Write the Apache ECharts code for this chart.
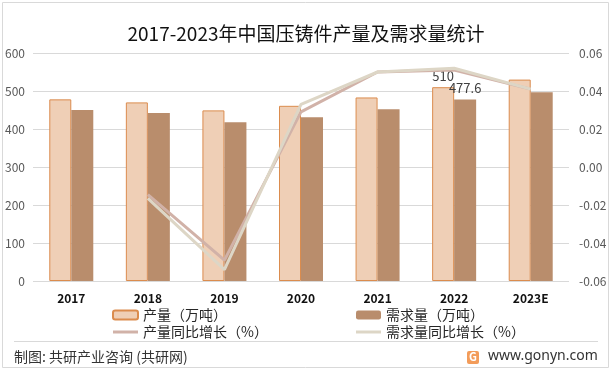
<!DOCTYPE html>
<html><head><meta charset="utf-8">
<script src="https://cdn.jsdelivr.net/npm/echarts@6/dist/echarts.min.js"></script>
<style>html,body{margin:0;padding:0;background:#fff}#c{width:612px;height:372px}</style>
</head><body><div id="c"></div>
<script>
const categories = ['2017','2018','2019','2020','2021','2022','2023E'];
const production = [478, 470, 449, 461, 483, 510, 530];
const demand = [450, 442, 418, 431, 452, 477.6, 497];
const prodGrowth = [null, -0.0145, -0.049, 0.029, 0.050, 0.051, 0.041];
const demandGrowth = [null, -0.0165, -0.054, 0.033, 0.050, 0.052, 0.041];
const leftTicks = {min: 0, max: 600, interval: 100};
const rightTicks = {min: -0.06, max: 0.06, interval: 0.02};
const labelled = {2022: true};

const font = '"Noto Sans CJK SC", "Noto Sans", sans-serif';
const lineIcon = 'path://M0,0 L25,0 L25,3 L0,3 Z';
const legendCommon = {orient: 'vertical', top: 308, padding: 0,
  itemWidth: 25, itemHeight: 9, itemGap: 3,
  textStyle: {fontSize: 14, color: '#262626', fontFamily: font}};
const chart = echarts.init(document.getElementById('c'), null, {renderer: 'canvas'});
chart.setOption({
  animation: false,
  textStyle: {fontFamily: font},
  title: {text: '2017-2023年中国压铸件产量及需求量统计', left: 'center', top: 19,
    textStyle: {fontSize: 19, fontWeight: 'normal', color: '#111', fontFamily: font}},
  grid: {left: 33, right: 43, top: 53, bottom: 91, containLabel: false},
  legend: [
    Object.assign({left: 112, data: ['产量（万吨）', {name: '产量同比增长（%）', icon: lineIcon}]}, legendCommon),
    Object.assign({left: 356, data: ['需求量（万吨）', {name: '需求量同比增长（%）', icon: lineIcon}]}, legendCommon)
  ],
  xAxis: {type: 'category', data: categories,
    axisLine: {show: false}, axisTick: {show: false},
    axisLabel: {margin: 11, fontSize: 12, fontWeight: 'bold', color: '#111', fontFamily: font}},
  yAxis: [
    {type: 'value', min: leftTicks.min, max: leftTicks.max, interval: leftTicks.interval,
     axisLabel: {fontSize: 12, color: '#595959', margin: 8, align: 'right'},
     splitLine: {lineStyle: {color: '#D9D9D9'}}, axisLine: {show: false}},
    {type: 'value', min: rightTicks.min, max: rightTicks.max, interval: rightTicks.interval,
     axisLabel: {fontSize: 12, color: '#595959', margin: 10, formatter: v => v.toFixed(2)},
     splitLine: {show: false}, axisLine: {show: false}}
  ],
  series: [
    {name: '产量（万吨）', type: 'bar', data: production, barWidth: 22, barGap: '0%',
     itemStyle: {color: '#EFCFB6', borderColor: '#DB8C4E', borderWidth: 1},
     label: {show: true, position: 'top', distance: 5, fontSize: 13, color: '#404040',
       formatter: p => labelled[p.name] ? String(p.value) : ''}},
    {name: '需求量（万吨）', type: 'bar', data: demand, barWidth: 22,
     itemStyle: {color: '#B98D6C'},
     label: {show: true, position: 'top', distance: 5, fontSize: 13, color: '#404040',
       formatter: p => labelled[p.name] ? String(p.value) : ''}},
    {name: '产量同比增长（%）', type: 'line', yAxisIndex: 1, data: prodGrowth,
     symbol: 'none', lineStyle: {color: '#D1B2A8', width: 3}, itemStyle: {color: '#D1B2A8'}, z: 3},
    {name: '需求量同比增长（%）', type: 'line', yAxisIndex: 1, data: demandGrowth,
     symbol: 'none', lineStyle: {color: '#DDD6C6', width: 3}, itemStyle: {color: '#DDD6C6'}, z: 4}
  ],
  graphic: [
    {type: 'rect', shape: {x: 2.5, y: 2.5, width: 606, height: 365},
     style: {fill: 'none', stroke: '#D9D9D9', lineWidth: 1}, silent: true},
    {type: 'line', shape: {x1: 14, y1: 341.5, x2: 598, y2: 341.5},
     style: {stroke: '#D9D9D9', lineWidth: 1}},
    {type: 'text', left: 14, top: 350,
     style: {text: '制图: 共研产业咨询 (共研网)', fontSize: 14, fill: '#333', fontFamily: font}},
    {type: 'rect', shape: {x: 467, y: 351, width: 12, height: 13, r: 2},
     style: {fill: '#F39C5A'}},
    {type: 'text', left: 469, top: 351,
     style: {text: 'G', fontSize: 11, fontWeight: 'bold', fill: '#fff', fontFamily: font}},
    {type: 'text', left: 488, top: 349,
     style: {text: 'www.gonyn.com', fontSize: 14, fill: '#333', fontFamily: '"Noto Sans", sans-serif'}}
  ]
});
</script></body></html>
